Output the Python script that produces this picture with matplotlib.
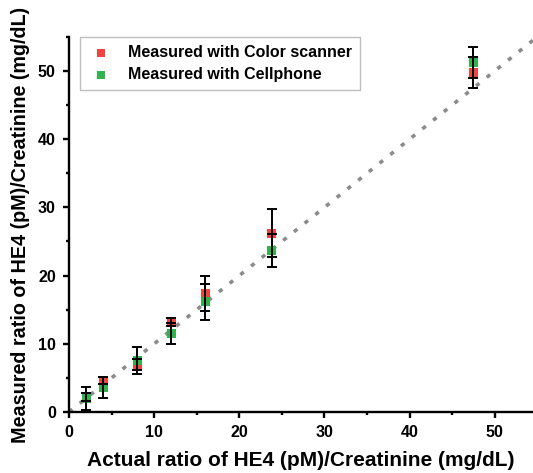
import matplotlib.pyplot as plt

plt.rcParams['font.family'] = ['Liberation Sans', 'DejaVu Sans']
plt.rcParams['font.weight'] = 'bold'

# actual ratio
x_actual = [2, 4, 8, 12, 16, 23.8, 47.5]
# measured with color scanner
scan_mean = [2.25, 4.6, 6.9, 13.2, 17.4, 26.2, 49.8]
scan_err = [0.6, 0.5, 0.8, 0.55, 2.6, 3.5, 2.25]
# measured with cellphone
phone_mean = [2.0, 3.6, 7.6, 11.5, 16.15, 23.65, 51.2]
phone_err = [1.65, 1.6, 2.0, 1.6, 2.65, 2.45, 2.3]

fig = plt.figure(figsize=(5.33, 4.73), dpi=100)
ax = fig.add_axes([0.1295, 0.129, 0.8705, 0.793])

ax.plot([0, 55], [0, 55], color='#8c8c8c', lw=2.6, ls=(0, (1.2, 2.6)), zorder=1)

ax.scatter(x_actual, scan_mean, marker='s', s=42, color='#f0453f', edgecolors='none',
           label='Measured with Color scanner', zorder=2)
ax.scatter(x_actual, phone_mean, marker='s', s=42, color='#30b34a', edgecolors='none',
           label='Measured with Cellphone', zorder=3)
ax.errorbar(x_actual, scan_mean, yerr=scan_err, fmt='none', ecolor='black',
            elinewidth=1.4, capsize=3.3, capthick=1.4, zorder=4)
ax.errorbar(x_actual, phone_mean, yerr=phone_err, fmt='none', ecolor='black',
            elinewidth=1.4, capsize=3.3, capthick=1.4, zorder=4)

ax.set_xlim(0, 54.5)
ax.set_ylim(0, 55)
ax.set_xticks([0, 10, 20, 30, 40, 50])
ax.set_yticks([0, 10, 20, 30, 40, 50])
ax.set_xticks(range(5, 55, 10), minor=True)
ax.set_yticks(range(5, 56, 10), minor=True)
ax.spines['top'].set_visible(False)
ax.spines['right'].set_visible(False)
for s in ['left', 'bottom']:
    ax.spines[s].set_linewidth(1.7)
ax.tick_params(which='major', direction='out', length=4.5, width=1.7, labelsize=11.5, pad=5)
ax.tick_params(which='minor', direction='out', length=2.5, width=1.7)

ax.set_xlabel('Actual ratio of HE4 (pM)/Creatinine (mg/dL)', fontsize=15,
              fontweight='bold', labelpad=8)
ax.set_ylabel('Measured ratio of HE4 (pM)/Creatinine (mg/dL)', fontsize=14.2,
              fontweight='bold', labelpad=6)

leg = ax.legend(loc='upper left', bbox_to_anchor=(0.024, 1.0), borderaxespad=0,
                fontsize=11.5, frameon=True, fancybox=False, edgecolor='#b0b0b0',
                markerscale=0.85, handlelength=1.6, handletextpad=0.9,
                borderpad=0.5, labelspacing=0.45)
leg.get_frame().set_linewidth(1.0)

fig.savefig('out.png', dpi=100)
